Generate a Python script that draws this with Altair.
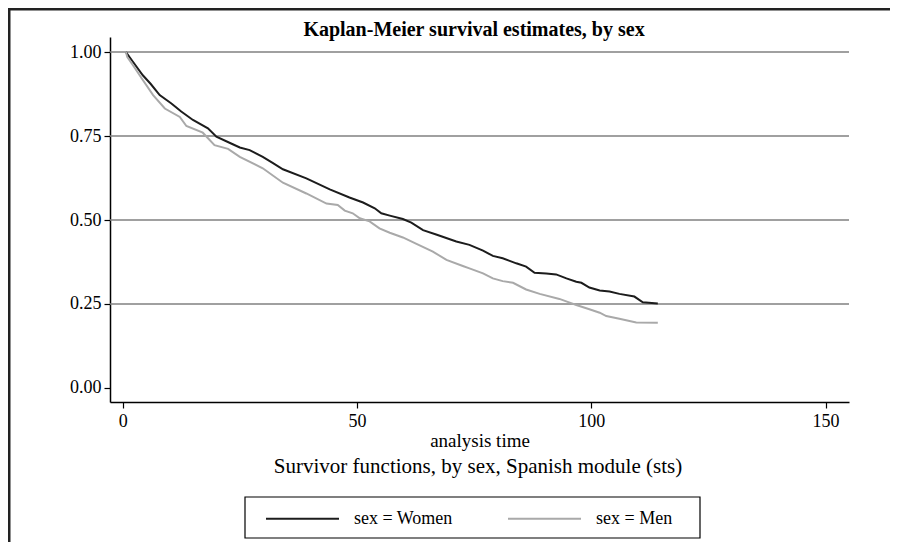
import altair as alt
import pandas as pd

# ---- data ----
women_t = [0.7, 2.0, 4.3, 6.0, 7.9, 10.4, 12.5, 15.0, 18.2, 20.0, 22.8, 25.0, 27.1, 29.9, 32.0,
           34.2, 39.2, 44.2, 48.4, 51.3, 53.8, 55.2, 57.0, 59.8, 61.6, 64.1, 66.9, 71.2, 74.0,
           76.9, 79.0, 81.1, 84.0, 86.1, 87.9, 90.4, 92.5, 94.7, 96.8, 97.9, 99.6, 101.8, 103.9,
           106.0, 109.2, 111.0, 114.2]
women_s = [1.000, 0.975, 0.931, 0.905, 0.872, 0.847, 0.823, 0.798, 0.773, 0.748, 0.730, 0.716,
           0.708, 0.688, 0.670, 0.651, 0.624, 0.591, 0.567, 0.552, 0.535, 0.520, 0.513, 0.503,
           0.492, 0.470, 0.457, 0.436, 0.426, 0.409, 0.393, 0.386, 0.371, 0.361, 0.343, 0.341,
           0.338, 0.326, 0.316, 0.313, 0.299, 0.290, 0.287, 0.280, 0.272, 0.255, 0.251]

men_t = [0.7, 1.0, 2.2, 4.3, 6.5, 9.0, 12.2, 13.6, 17.1, 19.6, 22.5, 25.0, 29.9, 34.2, 39.2,
         43.5, 45.9, 47.4, 49.1, 50.6, 52.7, 54.8, 57.0, 59.8, 62.7, 66.2, 69.1, 72.6, 74.0,
         76.9, 79.0, 81.1, 83.3, 86.1, 89.0, 93.2, 95.4, 96.8, 99.6, 101.8, 103.2, 106.0,
         109.6, 114.2]
men_s = [1.000, 0.985, 0.961, 0.917, 0.872, 0.832, 0.807, 0.780, 0.760, 0.723, 0.712, 0.688,
         0.654, 0.611, 0.579, 0.549, 0.545, 0.528, 0.520, 0.505, 0.496, 0.475, 0.462, 0.448,
         0.429, 0.406, 0.381, 0.363, 0.356, 0.341, 0.326, 0.318, 0.313, 0.293, 0.280, 0.265,
         0.254, 0.247, 0.234, 0.224, 0.214, 0.206, 0.195, 0.194]

series_labels = ["sex = Women", "sex = Men"]
series_colors = ["#1c1c1c", "#a9a9a9"]
grid_levels = [0.25, 0.50, 0.75, 1.00]
y_ticks = [0, 0.25, 0.5, 0.75, 1.0]
x_ticks = [0, 50, 100, 150]
title_text = "Kaplan-Meier survival estimates, by sex"
x_title = "analysis time"
caption_text = "Survivor functions, by sex, Spanish module (sts)"

FONT = "Liberation Serif"

df = pd.concat([
    pd.DataFrame({"t": women_t, "s": women_s, "label": series_labels[0]}),
    pd.DataFrame({"t": men_t, "s": men_s, "label": series_labels[1]}),
], ignore_index=True)

xscale = alt.Scale(domain=[-2.7, 155], nice=False, zero=False)
yscale = alt.Scale(domain=[-0.042, 1.045], nice=False, zero=False)

grid = alt.Chart(pd.DataFrame({"g": grid_levels})).mark_rule(
    color="#808080", strokeWidth=1.5
).encode(y=alt.Y("g:Q", scale=yscale))

lines = alt.Chart(df).mark_line(strokeWidth=2).encode(
    x=alt.X("t:Q", scale=xscale,
            axis=alt.Axis(values=x_ticks, title=x_title, grid=False, labelPadding=4,
                          titlePadding=1)),
    y=alt.Y("s:Q", scale=yscale,
            axis=alt.Axis(values=y_ticks, format=".2f", title=None, grid=False,
                          labelPadding=3)),
    color=alt.Color("label:N",
                    scale=alt.Scale(domain=series_labels, range=series_colors),
                    legend=alt.Legend(orient="none", legendX=155, legendY=444,
                                      direction="horizontal", title=None,
                                      symbolType="stroke", symbolSize=5329,
                                      symbolStrokeWidth=2, labelFont=FONT,
                                      labelFontSize=18, labelOffset=14,
                                      columnPadding=51, padding=0,
                                      labelColor="black")),
)

one = pd.DataFrame({"k": [0]})

legend_box = alt.Chart(one).mark_rect(fill="white", stroke="black", strokeWidth=1.2).encode(
    x=alt.value(135), x2=alt.value(590), y=alt.value(460), y2=alt.value(501)
)

frame_top = alt.Chart(one).mark_rule(color="#222222", strokeWidth=3).encode(
    x=alt.value(-102), x2=alt.value(781), y=alt.value(-28)
)
frame_left = alt.Chart(one).mark_rule(color="#222222", strokeWidth=3).encode(
    x=alt.value(-101), y=alt.value(-29), y2=alt.value(510)
)

title = alt.Chart(pd.DataFrame({"txt": [title_text]})).mark_text(
    font=FONT, fontSize=20, fontWeight="bold", color="black", align="center",
    baseline="alphabetic"
).encode(text="txt:N", x=alt.value(364), y=alt.value(-1))

caption = alt.Chart(pd.DataFrame({"txt": [caption_text]})).mark_text(
    font=FONT, fontSize=21, color="black", align="center", baseline="middle"
).encode(text="txt:N", x=alt.value(368), y=alt.value(430))

chart = alt.layer(frame_top, frame_left, grid, legend_box, lines, title, caption).properties(
    width=739, height=365,
    autosize=alt.AutoSizeParams(type="none"),
    padding={"left": 102, "top": 29, "right": 41, "bottom": 140},
    background="white",
).configure_view(strokeWidth=0).configure_axis(
    domainColor="black", domainWidth=1.5, tickColor="black", tickWidth=1.2, tickSize=6,
    labelFont=FONT, labelFontSize=18, labelColor="black",
    titleFont=FONT, titleFontSize=19, titleFontWeight="normal", titleColor="black",
)

chart.save("out.html", embed_options={"renderer": "svg", "actions": False})
